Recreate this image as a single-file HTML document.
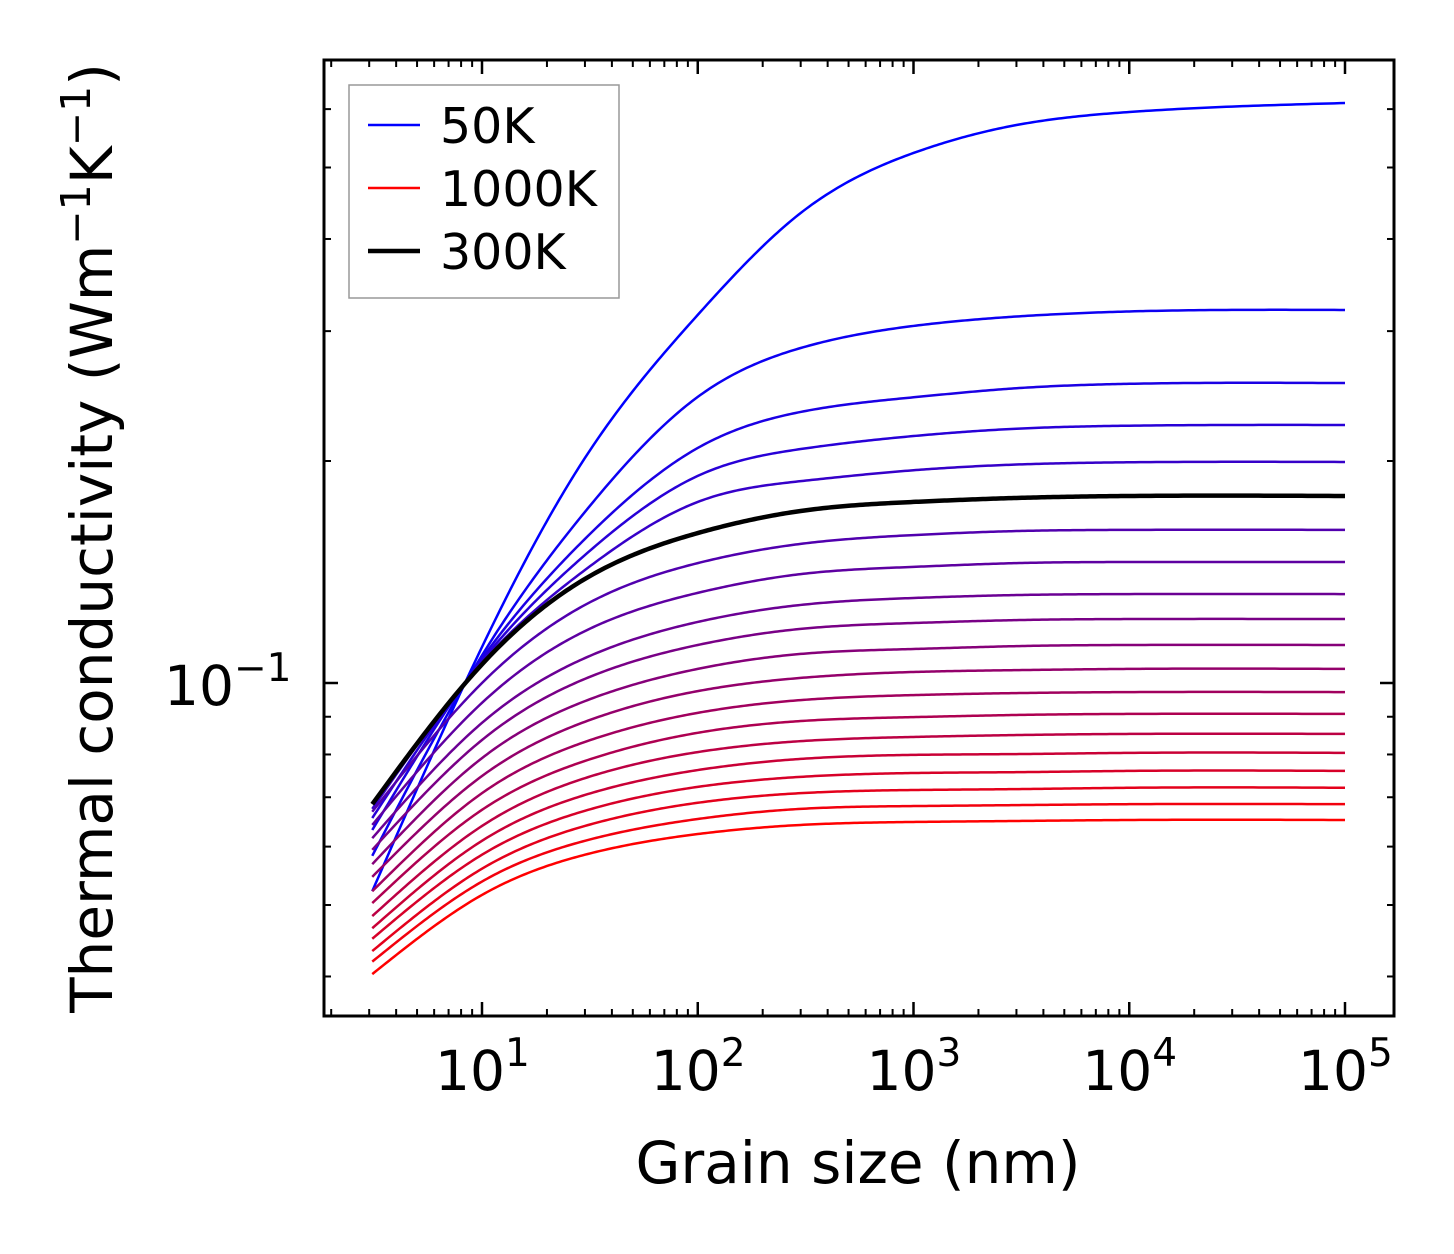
<!DOCTYPE html>
<html><head><meta charset="utf-8"><style>
html,body{margin:0;padding:0;background:#fff;}
svg{display:block;font-family:"DejaVu Sans","Liberation Sans",sans-serif;}
</style></head><body>
<svg id="chart" width="1454" height="1254" viewBox="0 0 1454 1254" xmlns="http://www.w3.org/2000/svg">
<rect x="0" y="0" width="1454" height="1254" fill="#fff"/>
<g id="ticks"></g>
<g id="series"></g>
<rect x="324" y="60" width="1070" height="956" fill="none" stroke="#000" stroke-width="3"/>
<g id="labels" font-size="55" fill="#000"></g>
<text x="858" y="1183" font-size="58" text-anchor="middle">Grain size (nm)</text>
<text transform="translate(112,538) rotate(-90)" font-size="58" text-anchor="middle">Thermal conductivity (Wm<tspan dy="-22" font-size="41">−1</tspan><tspan dy="22">K</tspan><tspan dy="-22" font-size="41">−1</tspan><tspan dy="22">)</tspan></text>
<g>
<rect x="349" y="85" width="270" height="213" fill="#fff" stroke="#999" stroke-width="1.5"/>
<line x1="368" y1="125" x2="420" y2="125" stroke="#0000ff" stroke-width="2.5"/>
<text x="440" y="143" font-size="49">50K</text>
<line x1="368" y1="188" x2="420" y2="188" stroke="#ff0000" stroke-width="2.5"/>
<text x="440" y="206" font-size="49">1000K</text>
<line x1="368" y1="251" x2="420" y2="251" stroke="#000" stroke-width="4.5"/>
<text x="440" y="269" font-size="49">300K</text>
</g>
</svg>
<script>
const grainSizes = [3.1, 10, 30, 100, 300, 1000, 3000, 10000, 100000];
const temperatures = [50,100,150,200,250,300,350,400,450,500,550,600,650,700,750,800,850,900,950,1000];
const k50 = [0.0522,0.1119,0.2019,0.3156,0.4338,0.5232,0.5709,0.5946,0.6115];
const k100 = [0.0583,0.1090,0.1706,0.2443,0.2846,0.3049,0.3140,0.3190,0.3205];
const k150 = [0.0632,0.1080,0.1568,0.2083,0.2331,0.2440,0.2510,0.2545,0.2551];
const k200 = [0.0656,0.1072,0.1491,0.1909,0.2076,0.2162,0.2212,0.2233,0.2238];
const k250 = [0.0675,0.1066,0.1423,0.1760,0.1878,0.1943,0.1978,0.1992,0.1994];
const k300 = [0.0685,0.1060,0.1384,0.1597,0.1711,0.1760,0.1782,0.1793,0.1793];
const k350 = [0.0669,0.1000,0.1276,0.1454,0.1544,0.1587,0.1607,0.1613,0.1613];
const k400 = [0.0642,0.0940,0.1176,0.1325,0.1405,0.1437,0.1454,0.1459,0.1459];
const k450 = [0.0616,0.0883,0.1081,0.1210,0.1276,0.1304,0.1316,0.1320,0.1320];
const k500 = [0.0594,0.0837,0.1013,0.1126,0.1184,0.1206,0.1217,0.1221,0.1221];
const k550 = [0.0568,0.0791,0.0945,0.1045,0.1095,0.1112,0.1122,0.1126,0.1126];
const k600 = [0.0546,0.0748,0.0886,0.0975,0.1016,0.1035,0.1041,0.1045,0.1045];
const k650 = [0.0522,0.0709,0.0832,0.0911,0.0948,0.0963,0.0969,0.0972,0.0972];
const k700 = [0.0503,0.0673,0.0784,0.0856,0.0888,0.0899,0.0905,0.0908,0.0908];
const k750 = [0.0483,0.0640,0.0743,0.0806,0.0834,0.0845,0.0850,0.0853,0.0853];
const k800 = [0.0465,0.0611,0.0705,0.0762,0.0789,0.0799,0.0801,0.0804,0.0804];
const k850 = [0.0450,0.0585,0.0671,0.0723,0.0746,0.0755,0.0757,0.0760,0.0760];
const k900 = [0.0433,0.0560,0.0640,0.0688,0.0709,0.0716,0.0718,0.0721,0.0721];
const k950 = [0.0419,0.0538,0.0611,0.0654,0.0675,0.0681,0.0683,0.0685,0.0685];
const k1000 = [0.0403,0.0516,0.0585,0.0624,0.0642,0.0648,0.0650,0.0652,0.0652];
const seriesValues = [k50,k100,k150,k200,k250,k300,k350,k400,k450,k500,k550,k600,k650,k700,k750,k800,k850,k900,k950,k1000];
const xTickExps = [1,2,3,4,5];
const yTickExps = [-1];

const NS = "http://www.w3.org/2000/svg";
const PL=324, PR=1394, PT=60, PB=1016;
const XDEC=215.75, X10=482, YDEC=737.5, Y01=683;
function xs(v){ return X10 + (Math.log10(v)-1)*XDEC; }
function ys(v){ return Y01 - (Math.log10(v)+1)*YDEC; }
function mk(tag, attrs, parent){ const e=document.createElementNS(NS,tag); for(const a in attrs) e.setAttribute(a,attrs[a]); parent.appendChild(e); return e; }

const tg = document.getElementById('ticks');
for(let d=0; d<=5; d++){
  for(let m=1; m<=9; m++){
    const v=m*Math.pow(10,d), x=xs(v);
    if(x<PL+1||x>PR-1) continue;
    const len = m===1?14:7;
    const t1 = mk('line',{x1:x,y1:PB,x2:x,y2:PB-len,stroke:'#000','stroke-width':m===1?2.5:2},tg);
    
    
    const t2 = mk('line',{x1:x,y1:PT,x2:x,y2:PT+len,stroke:'#000','stroke-width':m===1?2.5:2},tg);
    
    
  }
}
for(let d=-2; d<=0; d++){
  for(let m=1; m<=9; m++){
    const v=m*Math.pow(10,d), y=ys(v);
    if(y<PT+1||y>PB-1) continue;
    const len = m===1?14:7;
    const t1 = mk('line',{x1:PL,y1:y,x2:PL+len,y2:y,stroke:'#000','stroke-width':m===1?2.5:2},tg);
    
    
    const t2 = mk('line',{x1:PR,y1:y,x2:PR-len,y2:y,stroke:'#000','stroke-width':m===1?2.5:2},tg);
    
    
  }
}
const lg = document.getElementById('labels');
xTickExps.forEach(e=>{
  const x=xs(Math.pow(10,e));
  const t=mk('text',{x:x-47,y:1090},lg);
  
  
  t.textContent='10';
  const s=mk('tspan',{dy:-24,'font-size':39},t); s.textContent=String(e);
});
yTickExps.forEach(e=>{
  const y=ys(Math.pow(10,e));
  const t=mk('text',{x:164,y:y+22},lg);
  
  
  t.textContent='10';
  const s=mk('tspan',{dy:-24,'font-size':39},t); s.textContent='−'+String(-e);
});

function pathFor(vals){
  const X = grainSizes.map(g=>xs(g)), Y = vals.map(v=>ys(v));
  const n=X.length, h=[], M=new Array(n).fill(0);
  for(let i=0;i<n-1;i++) h.push(X[i+1]-X[i]);
  const a=[],b=[],c=[],r=[];
  for(let i=1;i<n-1;i++){
    a.push(h[i-1]); b.push(2*(h[i-1]+h[i])); c.push(h[i]);
    r.push(6*((Y[i+1]-Y[i])/h[i]-(Y[i]-Y[i-1])/h[i-1]));
  }
  const m=b.length;
  for(let i=1;i<m;i++){ const w=a[i]/b[i-1]; b[i]-=w*c[i-1]; r[i]-=w*r[i-1]; }
  const sol=new Array(m);
  sol[m-1]=r[m-1]/b[m-1];
  for(let i=m-2;i>=0;i--) sol[i]=(r[i]-c[i]*sol[i+1])/b[i];
  for(let i=0;i<m;i++) M[i+1]=sol[i];
  let d='';
  for(let i=0;i<n-1;i++){
    const steps=40;
    for(let s=(i===0?0:1); s<=steps; s++){
      const x=X[i]+h[i]*s/steps;
      const A=(X[i+1]-x)/h[i], B=(x-X[i])/h[i];
      const y=A*Y[i]+B*Y[i+1]+((A*A*A-A)*M[i]+(B*B*B-B)*M[i+1])*h[i]*h[i]/6;
      d+=(d?' L':'M')+x.toFixed(2)+','+y.toFixed(2);
    }
  }
  return d;
}
const sg=document.getElementById('series');
const order = temperatures.map((t,i)=>i).filter(i=>temperatures[i]!==300);
order.push(temperatures.indexOf(300));
order.forEach(i=>{
  const T=temperatures[i];
  const f=i/(temperatures.length-1);
  const col = T===300 ? '#000' : 'rgb('+Math.round(255*f)+',0,'+Math.round(255*(1-f))+')';
  const p=mk('path',{d:pathFor(seriesValues[i]),fill:'none',stroke:col,'stroke-width':T===300?4.5:2.5,'stroke-linejoin':'round'},sg);
  
  
});
</script>
</body></html>
